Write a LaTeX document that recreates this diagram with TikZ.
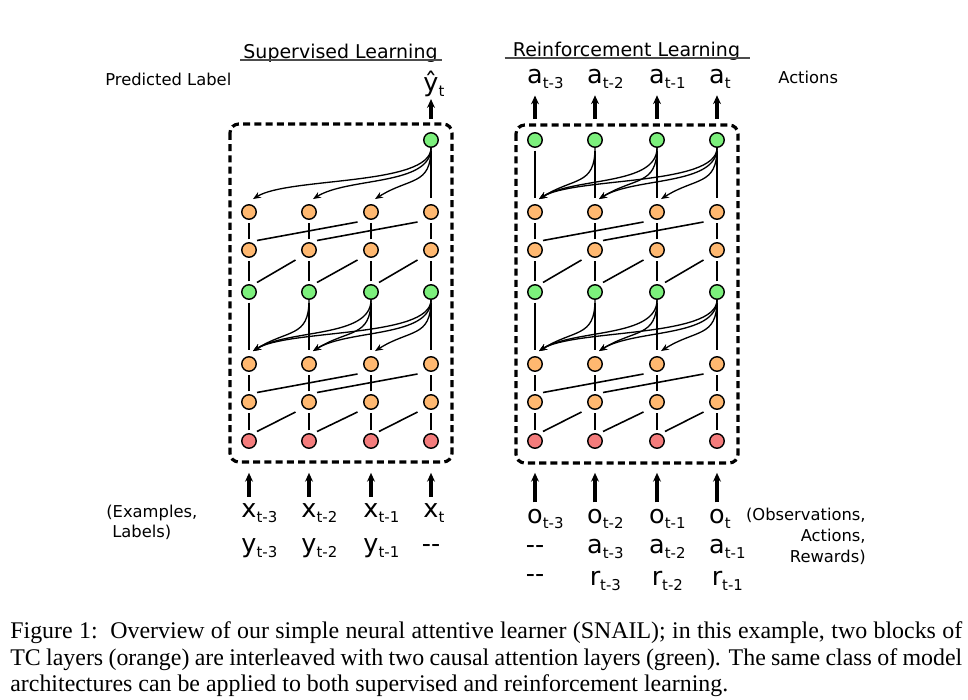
\documentclass[tikz,border=0pt]{standalone}
\usepackage{fontspec}
\setmainfont{Liberation Serif}
\newfontfamily\dejavu{DejaVu Sans}
\usetikzlibrary{arrows.meta,calc}
\definecolor{attnGreen}{HTML}{7CF07C}
\definecolor{tcOrange}{HTML}{FFB870}
\definecolor{inRed}{HTML}{F47C7C}
% letter with a lowered time index
\newcommand{\tsym}[2]{#1\rlap{\fontsize{8.5}{10}\selectfont\raisebox{-3.4pt}{#2}}}

\begin{document}
\begin{tikzpicture}[
    x=0.02cm, y=-0.02cm,
    every node/.style={font=\dejavu\fontsize{9.3}{11.5}\selectfont},
    unit/.style={circle, draw=black, line width=0.8pt, minimum size=0.29cm, inner sep=0pt},
    attn/.style={unit, fill=attnGreen},
    tc/.style={unit, fill=tcOrange},
    inp/.style={unit, fill=inRed},
    link/.style={line width=0.9pt, shorten <=1.5pt, shorten >=1.5pt},
    skip/.style={line width=0.9pt},
    attarr/.style={-{Stealth[length=4.5pt,width=3.6pt]}, line width=0.75pt},
    ioarr/.style={-{Stealth[length=5pt,width=4.5pt]}, line width=2pt},
    panel/.style={dash pattern=on 4pt off 2.4pt, line width=1.8pt, rounded corners=5pt},
    sym/.style={font=\dejavu\fontsize{14.5}{16}\selectfont, inner sep=0pt, anchor=base},
    title/.style={font=\dejavu\fontsize{10.8}{13}\selectfont, inner sep=0pt, anchor=base},
  ]
  \useasboundingbox (0,0) rectangle (968,700);

  % units of both panels
  \foreach \p/\dx in {l/0, r/286} {
    \foreach \c/\x in {1/249, 2/309, 3/371, 4/431} {
      \node[inp] (\p0\c) at (\x+\dx,441) {};
      \node[tc] (\p1\c) at (\x+\dx,402) {};
      \node[tc] (\p2\c) at (\x+\dx,364) {};
      \node[attn] (\p3\c) at (\x+\dx,292) {};
      \node[tc] (\p4\c) at (\x+\dx,250) {};
      \node[tc] (\p5\c) at (\x+\dx,212) {};
    }
  }
  \node[attn] (l64) at (431,140) {};
  \foreach \c/\x in {1/535, 2/595, 3/657, 4/717}
    \node[attn] (r6\c) at (\x,140) {};

  % dashed panels
  \draw[panel] (230,124) rectangle (452,462);
  \draw[panel] (516,125) rectangle (738,463);

  % TC layers
  \foreach \p in {l,r} {
    \foreach \a/\b in {0/1, 1/2, 3/4, 4/5}
      \foreach \c in {1,...,4}
        \draw[link] (\p\a\c) -- (\p\b\c);
    \foreach \a/\b in {0/1, 3/4}
      \foreach \c/\k in {1/2, 2/3, 3/4}
        \draw[skip] ([shift={(8,-9.5)}]\p\a\c.center) -- ([shift={(-13.5,10)}]\p\b\k.center);
    \foreach \a/\b in {1/2, 4/5}
      \foreach \c/\k in {1/3, 2/4}
        \draw[skip] ([shift={(8,-9.5)}]\p\a\c.center) -- ([shift={(-13.5,10)}]\p\b\k.center);
  }

  % attention layers
  \foreach \p in {l,r} {
    \foreach \c in {1,...,4}
      \draw[link, shorten >=3.7pt] (\p3\c) -- (\p2\c);
    \foreach \j/\i in {2/1, 3/1, 3/2, 4/1, 4/2, 4/3}
      \draw[attarr] (\p3\j.south) .. controls +(0,38) and +(35,-22) .. ([shift={(4,-5)}]\p2\i.north);
  }
  \draw[link, shorten >=3.7pt] (l64) -- (l54);
  \foreach \i in {1,2,3}
    \draw[attarr] (l64.south) .. controls +(0,38) and +(35,-22) .. ([shift={(4,-5)}]l5\i.north);
  \foreach \c in {1,...,4}
    \draw[link, shorten >=3.7pt] (r6\c) -- (r5\c);
  \foreach \j/\i in {2/1, 3/1, 3/2, 4/1, 4/2, 4/3}
    \draw[attarr] (r6\j.south) .. controls +(0,38) and +(35,-22) .. ([shift={(4,-5)}]r5\i.north);

  % titles
  \node[title] (suptitle) at (340.5,58) {Supervised Learning};
  \draw[line width=0.8pt, black!70] ([shift={(-3,2)}]suptitle.base west) -- ([shift={(4,2)}]suptitle.base east);
  \node[title] (rltitle) at (626.5,56) {Reinforcement Learning};
  \draw[line width=0.8pt, black!70] ([shift={(-8,2)}]rltitle.base west) -- ([shift={(10,2)}]rltitle.base east);

  % outputs
  \node[anchor=base west, inner sep=0pt] (predlbl) at (105,85) {Predicted Label};
  \node[sym] (yhat) at (431,91) {\tsym{ŷ}{t}};
  \draw[ioarr, shorten <=7.7pt, shorten >=1pt] (l64) -- (yhat);
  \foreach \c/\x/\s in {1/535/t-3, 2/595/t-2, 3/657/t-1, 4/717/t} {
    \node[sym] (act\c) at (\x,83) {\tsym{a}{\s}};
    \draw[ioarr, shorten <=7.7pt, shorten >=3.4pt] (r6\c) -- (act\c);
  }
  \node[anchor=base west, inner sep=0pt] (actlbl) at (778,83) {Actions};

  % inputs, supervised
  \foreach \c/\x/\s in {1/249/t-3, 2/309/t-2, 3/371/t-1, 4/431/t} {
    \node[sym] (lx\c) at (\x,517) {\tsym{x}{\s}};
    \draw[ioarr, shorten <=3.4pt, shorten >=13.6pt] (lx\c) -- (l0\c);
  }
  \foreach \c/\x/\s in {1/249/t-3, 2/309/t-2, 3/371/t-1}
    \node[sym] (ly\c) at (\x,552) {\tsym{y}{\s}};
  \node[sym] (ly4) at (431,552) {-{}-};
  \node[anchor=base west, inner sep=0pt] (exlbl) at (106,517) {(Examples,};
  \node[anchor=base west, inner sep=0pt] (lablbl) at (112,537) {Labels)};

  % inputs, reinforcement
  \foreach \c/\x/\s in {1/535/t-3, 2/595/t-2, 3/657/t-1, 4/717/t} {
    \node[sym] (ro\c) at (\x,523) {\tsym{o}{\s}};
    \draw[ioarr, shorten <=3.4pt, shorten >=13.6pt] (ro\c) -- (r0\c);
  }
  \node[sym] (ra1) at (535,553) {-{}-};
  \node[sym] (rr1) at (535,582) {-{}-};
  \foreach \c/\x/\s in {2/595/t-3, 3/657/t-2, 4/717/t-1} {
    \node[sym] (ra\c) at (\x,553) {\tsym{a}{\s}};
    \node[sym] (rr\c) at (\x,585) {\tsym{r}{\s}};
  }
  \node[anchor=base east, inner sep=0pt] (obslbl) at (866,520) {(Observations,};
  \node[anchor=base east, inner sep=0pt] (actslbl) at (866,541) {Actions,};
  \node[anchor=base east, inner sep=0pt] (rewlbl) at (866,562) {Rewards)};

  % caption
  \node[anchor=north west, inner sep=0pt, text width=19.04cm, align=justify,
        font=\rmfamily\fontsize{13.6}{15.3}\selectfont] (caption) at (10,621)
    {Figure 1:\ \ Overview of our simple neural attentive learner (SNAIL); in this example, two blocks of\linebreak
     TC layers (orange) are interleaved with two causal attention layers (green). The same class of model\linebreak
     architectures can be applied to both supervised and reinforcement learning.};
\end{tikzpicture}
\end{document}
